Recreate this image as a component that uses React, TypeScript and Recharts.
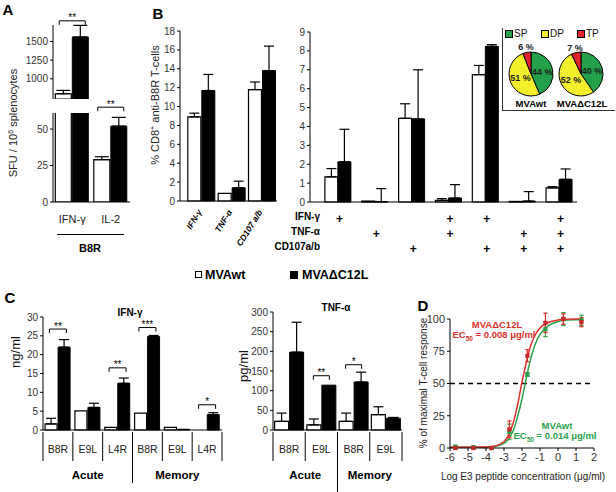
import React from "react";
import {
  Bar,
  BarChart,
  Cell,
  ComposedChart,
  ErrorBar,
  Line,
  Pie,
  PieChart,
  ReferenceDot,
  ReferenceLine,
  Scatter,
  XAxis,
  YAxis,
  ZAxis,
} from "recharts";

// Four-panel figure (A–D) comparing MVAwt with MVAΔC12L. Every panel is its own
// small Recharts chart, pinned absolutely so the plot areas line up with the
// original layout; free text (panel letters, axis titles) sits in plain divs.

const FONT = '"Liberation Sans", Arial, Helvetica, sans-serif';
const WT_NAME = "MVAwt";
const KO_NAME = "MVA\u0394C12L";
const TICK = { fontSize: 10, fill: "#333", fontFamily: FONT };

// ---- A: ELISpot, B8R peptide (broken y axis) ----
const A_CATS = ["IFN-\u03b3", "IL-2"];
const A_WT = [800, 29];
const A_WT_ERR = [45, 2];
const A_KO = [1560, 52];
const A_KO_ERR = [155, 6];
const A_BREAK = 61; // top of the lower segment
const A_UPPER_MIN = 730; // bottom of the upper segment
const A_SIG_LEVEL = [1776, 65];
const A_SIG_STARS = ["**", "**"];

// ---- B: intracellular staining, single markers ----
const B_CATS = ["IFN-\u03b3", "TNF-\u03b1", "CD107 a/b"];
const B_WT = [8.9, 0.8, 11.8];
const B_WT_ERR = [0.4, 0, 0.8];
const B_KO = [11.7, 1.4, 13.8];
const B_KO_ERR = [1.7, 0.7, 2.6];

// ---- B: marker combinations ----
const BC_MARKERS = ["IFN-\u03b3", "TNF-\u03b1", "CD107a/b"];
const BC_COMBOS = [[0], [1], [2], [0, 1], [0, 2], [1, 2], [0, 1, 2]];
const BC_WT = [1.33, 0.05, 4.43, 0.09, 6.74, 0.03, 0.75];
const BC_WT_ERR = [0.44, 0, 0.77, 0.09, 0.49, 0, 0.06];
const BC_KO = [2.13, 0.02, 4.4, 0.21, 8.24, 0.05, 1.2];
const BC_KO_ERR = [1.72, 0.69, 2.6, 0.71, 0.09, 0.5, 0.55];

// ---- B inset pies ----
const PIE_SUBSETS = ["SP", "DP", "TP"];
const PIE_COLORS = ["#23a04a", "#f3ef2c", "#e3222b"];
const PIE_WT = [44, 51, 6];
const PIE_KO = [40, 52, 7];

// ---- C: cytokine secretion ----
const C_IFN_PHASES = ["Acute", "Acute", "Acute", "Memory", "Memory", "Memory"];
const C_IFN_PEPTIDES = ["B8R", "E9L", "L4R", "B8R", "E9L", "L4R"];
const C_IFN_WT = [1.6, 5.1, 0.7, 4.5, 0.7, 0];
const C_IFN_WT_ERR = [1.5, 0, 0, 0, 0, 0];
const C_IFN_KO = [22, 6.0, 12.4, 24.8, 0.2, 4.1];
const C_IFN_KO_ERR = [2.0, 1.1, 1.4, 0.3, 0, 0.5];
const C_IFN_SIG_LEVEL = [26.8, null, 16.5, 27.2, null, 6.7];
const C_IFN_SIG_STARS = ["**", "", "**", "***", "", "*"];

const C_TNF_PHASES = ["Acute", "Acute", "Memory", "Memory"];
const C_TNF_PEPTIDES = ["B8R", "E9L", "B8R", "E9L"];
const C_TNF_WT = [22, 13, 22, 39];
const C_TNF_WT_ERR = [21, 15, 21, 20];
const C_TNF_KO = [198, 114, 122, 30];
const C_TNF_KO_ERR = [76, 0, 25, 2];
const C_TNF_SIG_LEVEL = [null, 138, 166, null];
const C_TNF_SIG_STARS = ["", "**", "*", ""];

// ---- D: peptide titration ----
const D_DOSES = [-5.7, -4.7, -3.7, -2.7, -1.7, -0.7, 0.3, 1.3];
const D_KO = [0, 0, 0, 14.5, 71.5, 97, 100, 97.5];
const D_KO_ERR = [1, 1, 1, 6.5, 4.7, 7.5, 4, 3.5];
const D_WT = [1, 0.5, 0, 12.5, 57, 92, 100, 99];
const D_WT_ERR = [1, 1, 1, 6, 1.5, 5.7, 5, 4];
const D_FIT_X = [-6, -4, -3.5, -3, -2.75, -2.5, -2.25, -2, -1.75, -1.5, -1.25, -1, -0.5, 0, 0.5, 1, 1.4];
const D_KO_FIT = [0.5, 0.7, 1.5, 5, 10, 19, 33, 51, 67, 80, 88, 93, 97.5, 99.2, 99.8, 100, 100];
const D_WT_FIT = [0.5, 0.6, 1.2, 3.5, 7, 13, 24, 38, 55, 70, 81, 88, 95, 98, 99.2, 99.5, 99.5];

const RED = "#e0302c";
const GREEN = "#2ba24c";

function rows(cats: string[], wt: number[], wtErr: number[], ko: number[], koErr: number[]) {
  return cats.map((cat, i) => ({
    cat,
    wt: wt[i],
    wtErr: wtErr[i] ? [0, wtErr[i]] : null,
    ko: ko[i],
    koErr: koErr[i] ? [0, koErr[i]] : null,
  }));
}

const aRows = rows(A_CATS, A_WT, A_WT_ERR, A_KO, A_KO_ERR);
const aUpper = aRows.map((r) => ({
  cat: r.cat,
  wt: r.wt > A_UPPER_MIN ? r.wt : null,
  wtErr: r.wt > A_UPPER_MIN ? r.wtErr : null,
  ko: r.ko > A_UPPER_MIN ? r.ko : null,
  koErr: r.ko > A_UPPER_MIN ? r.koErr : null,
}));
const aLower = aRows.map((r) => ({
  ...r,
  wtErr: r.wt > A_BREAK ? null : r.wtErr,
  koErr: r.ko > A_BREAK ? null : r.koErr,
}));
const bRows = rows(B_CATS, B_WT, B_WT_ERR, B_KO, B_KO_ERR);
const bcCats = BC_COMBOS.map((c) => c.map((m) => BC_MARKERS[m]).join("+"));
const bcRows = rows(bcCats, BC_WT, BC_WT_ERR, BC_KO, BC_KO_ERR);
const cIfnCats = C_IFN_PEPTIDES.map((p, i) => `${C_IFN_PHASES[i]} ${p}`);
const cIfnRows = rows(cIfnCats, C_IFN_WT, C_IFN_WT_ERR, C_IFN_KO, C_IFN_KO_ERR);
const cTnfCats = C_TNF_PEPTIDES.map((p, i) => `${C_TNF_PHASES[i]} ${p}`);
const cTnfRows = rows(cTnfCats, C_TNF_WT, C_TNF_WT_ERR, C_TNF_KO, C_TNF_KO_ERR);
const dKoPts = D_DOSES.map((x, i) => ({ x, y: D_KO[i], e: D_KO_ERR[i] }));
const dWtPts = D_DOSES.map((x, i) => ({ x, y: D_WT[i], e: D_WT_ERR[i] }));
const dKoFit = D_FIT_X.map((x, i) => ({ x, y: D_KO_FIT[i] }));
const dWtFit = D_FIT_X.map((x, i) => ({ x, y: D_WT_FIT[i] }));

function T({ x, y, children, size = 10, bold = false, color = "#000", rotate = 0, align = "center" }: any) {
  const tx = align === "center" ? "-50%" : align === "right" ? "-100%" : "0";
  return (
    <div
      style={{
        position: "absolute",
        left: x,
        top: y,
        transform: `translate(${tx}, -50%) rotate(${rotate}deg)`,
        fontSize: size,
        fontWeight: bold ? 700 : 400,
        color,
        whiteSpace: "nowrap",
        lineHeight: 1,
      }}
    >
      {children}
    </div>
  );
}

function Box({ x, y, children }: any) {
  return <div style={{ position: "absolute", left: x, top: y }}>{children}</div>;
}

function bracketShape(half: number, stars: string) {
  return (p: any) => (
    <g>
      <path
        d={`M${p.cx - half},${p.cy + 4}V${p.cy}H${p.cx + half}V${p.cy + 4}`}
        fill="none"
        stroke="#000"
        strokeWidth={1}
      />
      <text x={p.cx} y={p.cy + 0.5} textAnchor="middle" fontSize={10} fill="#000" stroke="none" fontFamily={FONT}>
        {stars}
      </text>
    </g>
  );
}

function pairBars(errWidth: number) {
  return [
    <Bar key="wt" dataKey="wt" fill="#fff" stroke="#000" strokeWidth={1.2} isAnimationActive={false}>
      <ErrorBar dataKey="wtErr" width={errWidth} stroke="#000" strokeWidth={1.2} />
    </Bar>,
    <Bar key="ko" dataKey="ko" fill="#000" stroke="#000" strokeWidth={1} isAnimationActive={false}>
      <ErrorBar dataKey="koErr" width={errWidth} stroke="#000" strokeWidth={1.2} />
    </Bar>,
  ];
}

function SlantTick({ x, y, payload }: any) {
  const ax = x + 1;
  const ay = y + 9;
  return (
    <text
      x={ax}
      y={ay}
      transform={`rotate(-58 ${ax} ${ay})`}
      textAnchor="end"
      fontSize={8.5}
      fontStyle="italic"
      fontWeight="bold"
      fontFamily={FONT}
    >
      {payload.value}
    </text>
  );
}

function ComboTick({ x, y, index }: any) {
  const combo = BC_COMBOS[index];
  return (
    <g>
      {BC_MARKERS.map((m, r) =>
        combo.includes(r) ? (
          <text
            key={m}
            x={x + 2}
            y={y + 15 + r * 15}
            textAnchor="middle"
            dominantBaseline="central"
            fontSize={12}
            fontWeight="bold"
            fontFamily={FONT}
          >
            +
          </text>
        ) : null
      )}
    </g>
  );
}

function makePhaseTick(peptides: string[], phases: string[], band: number, groupDrop: number) {
  return function PhaseTick({ x, y, index }: any) {
    const left = x - band / 2;
    const right = x + band / 2;
    const newGroup = index === 0 || phases[index] !== phases[index - 1];
    const last = index === peptides.length - 1;
    let n = 1;
    while (index + n < phases.length && phases[index + n] === phases[index]) n++;
    return (
      <g fontFamily={FONT}>
        <line
          x1={left}
          x2={left}
          y1={y}
          y2={y + (newGroup && index > 0 ? groupDrop : 29)}
          stroke="#000"
          strokeWidth={1}
        />
        {last && <line x1={right} x2={right} y1={y} y2={y + 29} stroke="#000" strokeWidth={1} />}
        <text x={x} y={y + 17} textAnchor="middle" dominantBaseline="central" fontSize={10.5} fill="#222">
          {peptides[index]}
        </text>
        {newGroup && (
          <text
            x={left + (n * band) / 2}
            y={y + 43}
            textAnchor="middle"
            dominantBaseline="central"
            fontSize={11.5}
            fontWeight="bold"
          >
            {phases[index]}
          </text>
        )}
      </g>
    );
  };
}

function pieLabel(p: any) {
  const small = p.percent < 0.1;
  const r = small ? p.outerRadius + 5 : p.outerRadius * 0.52;
  const rad = (Math.PI / 180) * p.midAngle;
  const x = p.cx + r * Math.cos(rad);
  const y = p.cy - r * Math.sin(rad);
  return (
    <text
      x={x}
      y={y}
      textAnchor="middle"
      dominantBaseline="central"
      fontSize={9}
      fontWeight="bold"
      fill="#1d1d1d"
      fontFamily={FONT}
    >
      {p.value} %
    </text>
  );
}

function SubsetPie({ values }: { values: number[] }) {
  const data = PIE_SUBSETS.map((name, i) => ({ name, value: values[i] }));
  return (
    <PieChart width={64} height={66} margin={{ top: 0, right: 0, bottom: 0, left: 0 }}>
      <Pie
        data={data}
        dataKey="value"
        cx={32}
        cy={33}
        outerRadius={22}
        startAngle={90}
        endAngle={-270}
        stroke="#000"
        strokeWidth={1}
        label={pieLabel}
        labelLine={false}
        isAnimationActive={false}
      >
        {data.map((d, i) => (
          <Cell key={d.name} fill={PIE_COLORS[i]} />
        ))}
      </Pie>
    </PieChart>
  );
}

const axisLine = { stroke: "#000", strokeWidth: 1 };

export default function App() {
  const ifnTick = makePhaseTick(C_IFN_PEPTIDES, C_IFN_PHASES, 179 / 6, 51);
  const tnfTick = makePhaseTick(C_TNF_PEPTIDES, C_TNF_PHASES, 129 / 4, 60);

  return (
    <div
      style={{
        position: "absolute",
        left: 0,
        top: 0,
        width: 616,
        height: 492,
        background: "#fff",
        fontFamily: FONT,
        overflow: "hidden",
      }}
    >
      {/* ---------- A ---------- */}
      <T x={8} y={9} size={15} bold>A</T>
      <Box x={20} y={5}>
        <BarChart
          width={110}
          height={94}
          data={aUpper}
          margin={{ top: 20, right: 0, bottom: 0, left: 0 }}
          barCategoryGap="6%"
          barGap={1}
        >
          <XAxis dataKey="cat" hide />
          <YAxis
            width={33}
            domain={[A_UPPER_MIN, 1720]}
            ticks={[750, 1000, 1250, 1500]}
            allowDataOverflow
            tick={TICK}
            tickSize={3}
            axisLine={axisLine}
            tickLine={axisLine}
          />
          {pairBars(7)}
          {A_CATS.map((c, i) =>
            A_SIG_LEVEL[i] > A_UPPER_MIN ? (
              <ReferenceDot key={c} x={c} y={A_SIG_LEVEL[i]} ifOverflow="visible" shape={bracketShape(13, A_SIG_STARS[i])} />
            ) : null
          )}
        </BarChart>
      </Box>
      <Box x={20} y={93}>
        <BarChart
          width={110}
          height={139}
          data={aLower}
          margin={{ top: 20, right: 0, bottom: 0, left: 0 }}
          barCategoryGap="6%"
          barGap={1}
        >
          <XAxis
            dataKey="cat"
            height={30}
            tickLine={false}
            tickSize={0}
            tickMargin={13}
            axisLine={axisLine}
            tick={{ ...TICK, fontSize: 11, fill: "#222" }}
            interval={0}
          />
          <YAxis
            width={33}
            domain={[0, A_BREAK]}
            ticks={[0, 25, 50]}
            allowDataOverflow
            tick={TICK}
            tickSize={3}
            axisLine={axisLine}
            tickLine={axisLine}
          />
          {pairBars(7)}
          {A_CATS.map((c, i) =>
            A_SIG_LEVEL[i] < A_UPPER_MIN ? (
              <ReferenceDot key={c} x={c} y={A_SIG_LEVEL[i]} ifOverflow="visible" shape={bracketShape(13, A_SIG_STARS[i])} />
            ) : null
          )}
        </BarChart>
      </Box>
      <T x={13} y={123} size={11} rotate={-90} color="#222">
        SFU / 10<sup style={{ fontSize: 7 }}>6</sup> splenocytes
      </T>
      <div style={{ position: "absolute", left: 57, top: 234, width: 67, height: 1.3, background: "#000" }} />
      <T x={90} y={248} size={11} bold>B8R</T>

      {/* ---------- B ---------- */}
      <T x={158} y={13} size={15} bold>B</T>
      <Box x={140} y={21}>
        <BarChart
          width={140}
          height={230}
          data={bRows}
          margin={{ top: 10, right: 3, bottom: 0, left: 0 }}
          barCategoryGap="6%"
          barGap={1}
        >
          <XAxis
            dataKey="cat"
            height={50}
            padding={{ left: 6, right: 0 }}
            tickLine={false}
            tickSize={0}
            tick={<SlantTick />}
            axisLine={axisLine}
            interval={0}
          />
          <YAxis
            width={40}
            domain={[0, 18]}
            ticks={[0, 2, 4, 6, 8, 10, 12, 14, 16, 18]}
            tick={TICK}
            tickSize={3}
            axisLine={axisLine}
            tickLine={axisLine}
          />
          {pairBars(5)}
        </BarChart>
      </Box>
      <T x={155} y={105} size={11} rotate={-90} color="#222">
        % CD8<sup style={{ fontSize: 7 }}>+</sup> anti-B8R T-cells
      </T>

      <Box x={285} y={22}>
        <BarChart
          width={296}
          height={235}
          data={bcRows}
          margin={{ top: 10, right: 4, bottom: 0, left: 0 }}
          barCategoryGap="16%"
          barGap={0}
        >
          <XAxis
            dataKey="cat"
            height={55}
            padding={{ left: 9, right: 0 }}
            tickLine={false}
            tickSize={0}
            tick={<ComboTick />}
            axisLine={axisLine}
            interval={0}
          />
          <YAxis
            width={25}
            domain={[0, 9]}
            ticks={[0, 1, 2, 3, 4, 5, 6, 7, 8, 9]}
            tick={TICK}
            tickSize={3}
            axisLine={axisLine}
            tickLine={axisLine}
          />
          {pairBars(5)}
        </BarChart>
      </Box>
      {BC_MARKERS.map((m, r) => (
        <T key={m} x={320} y={217 + r * 15} size={10} bold align="right">
          {m}
        </T>
      ))}

      {/* inset: polyfunctionality pies */}
      <div
        style={{
          position: "absolute",
          left: 502,
          top: 28,
          width: 112,
          height: 82,
          borderLeft: "1.5px solid #333",
          borderBottom: "1.5px solid #333",
          background: "#fff",
        }}
      />
      {PIE_SUBSETS.map((s, i) => (
        <React.Fragment key={s}>
          <div
            style={{
              position: "absolute",
              left: 505 + i * 36,
              top: 30,
              width: 6,
              height: 6,
              background: PIE_COLORS[i],
              border: "1px solid #000",
            }}
          />
          <T x={514 + i * 36} y={34} size={10} align="left" color="#111">
            {s}
          </T>
        </React.Fragment>
      ))}
      <Box x={499} y={41}>
        <SubsetPie values={PIE_WT} />
      </Box>
      <Box x={549} y={41}>
        <SubsetPie values={PIE_KO} />
      </Box>
      <T x={531} y={104} size={9.5} bold>{WT_NAME}</T>
      <T x={582} y={104} size={9.5} bold>{KO_NAME}</T>

      {/* ---------- shared legend ---------- */}
      <div style={{ position: "absolute", left: 195, top: 271, width: 5, height: 5, border: "1.5px solid #000", background: "#fff" }} />
      <T x={205} y={275} size={12.5} bold align="left">{WT_NAME}</T>
      <div style={{ position: "absolute", left: 290, top: 271, width: 8, height: 8, background: "#000" }} />
      <T x={302} y={275} size={12.5} bold align="left">{KO_NAME}</T>

      {/* ---------- C ---------- */}
      <T x={10} y={297} size={15} bold>C</T>
      <T x={130} y={313} size={10} bold>{"IFN-\u03b3"}</T>
      <Box x={0} y={307}>
        <BarChart
          width={227}
          height={185}
          data={cIfnRows}
          margin={{ top: 10, right: 5, bottom: 0, left: 0 }}
          barCategoryGap="7%"
          barGap={1}
        >
          <XAxis
            dataKey="cat"
            height={62}
            tickLine={false}
            tickSize={0}
            tick={ifnTick}
            axisLine={axisLine}
            interval={0}
          />
          <YAxis
            width={43}
            domain={[0, 30]}
            ticks={[0, 5, 10, 15, 20, 25, 30]}
            tick={TICK}
            tickSize={3}
            axisLine={axisLine}
            tickLine={axisLine}
          />
          {pairBars(5)}
          {cIfnCats.map((c, i) =>
            C_IFN_SIG_LEVEL[i] != null ? (
              <ReferenceDot key={c} x={c} y={C_IFN_SIG_LEVEL[i] as number} ifOverflow="visible" shape={bracketShape(8.5, C_IFN_SIG_STARS[i])} />
            ) : null
          )}
        </BarChart>
      </Box>
      <T x={15} y={352} size={13} rotate={-90} color="#111">ng/ml</T>

      <T x={336} y={308} size={10} bold>{"TNF-\u03b1"}</T>
      <Box x={230} y={302}>
        <BarChart
          width={177}
          height={190}
          data={cTnfRows}
          margin={{ top: 10, right: 5, bottom: 0, left: 0 }}
          barCategoryGap="5%"
          barGap={1}
        >
          <XAxis
            dataKey="cat"
            height={62}
            tickLine={false}
            tickSize={0}
            tick={tnfTick}
            axisLine={axisLine}
            interval={0}
          />
          <YAxis
            width={43}
            domain={[0, 300]}
            ticks={[0, 50, 100, 150, 200, 250, 300]}
            tick={TICK}
            tickSize={3}
            axisLine={axisLine}
            tickLine={axisLine}
          />
          {pairBars(5)}
          {cTnfCats.map((c, i) =>
            C_TNF_SIG_LEVEL[i] != null ? (
              <ReferenceDot key={c} x={c} y={C_TNF_SIG_LEVEL[i] as number} ifOverflow="visible" shape={bracketShape(8, C_TNF_SIG_STARS[i])} />
            ) : null
          )}
        </BarChart>
      </Box>
      <T x={243} y={366} size={13} rotate={-90} color="#111">pg/ml</T>

      {/* ---------- D ---------- */}
      <T x={423} y={305} size={15} bold>D</T>
      <Box x={405} y={309}>
        <ComposedChart width={194} height={164} margin={{ top: 10, right: 5, bottom: 0, left: 0 }}>
          <XAxis
            type="number"
            dataKey="x"
            domain={[-6, 2]}
            ticks={[-6, -5, -4, -3, -2, -1, 0, 1, 2]}
            height={25}
            tick={{ ...TICK, fontSize: 11 }}
            tickSize={3}
            axisLine={axisLine}
            tickLine={axisLine}
          />
          <YAxis
            type="number"
            width={45}
            domain={[0, 100]}
            ticks={[0, 25, 50, 75, 100]}
            tick={{ ...TICK, fontSize: 11 }}
            tickSize={3}
            axisLine={axisLine}
            tickLine={axisLine}
          />
          <ZAxis range={[18, 18]} />
          <ReferenceLine y={50} stroke="#000" strokeWidth={1.5} strokeDasharray="5 4" />
          <Line data={dWtFit} dataKey="y" type="monotone" stroke={GREEN} strokeWidth={1.5} dot={false} isAnimationActive={false} />
          <Line data={dKoFit} dataKey="y" type="monotone" stroke={RED} strokeWidth={1.5} dot={false} isAnimationActive={false} />
          {[
            { pts: dWtPts, color: GREEN },
            { pts: dKoPts, color: RED },
          ].map(({ pts, color }) =>
            pts.map((p, i) => (
              <React.Fragment key={`${color}-${i}`}>
                <ReferenceLine
                  segment={[{ x: p.x, y: p.y - p.e }, { x: p.x, y: p.y + p.e }]}
                  stroke={color}
                  strokeWidth={1.2}
                  ifOverflow="visible"
                />
                <ReferenceLine
                  segment={[{ x: p.x - 0.12, y: p.y + p.e }, { x: p.x + 0.12, y: p.y + p.e }]}
                  stroke={color}
                  strokeWidth={1.2}
                  ifOverflow="visible"
                />
                <ReferenceLine
                  segment={[{ x: p.x - 0.12, y: p.y - p.e }, { x: p.x + 0.12, y: p.y - p.e }]}
                  stroke={color}
                  strokeWidth={1.2}
                  ifOverflow="visible"
                />
              </React.Fragment>
            ))
          )}
          <Scatter data={dWtPts} dataKey="y" shape="square" fill="#279b45" legendType="none" isAnimationActive={false} />
          <Scatter data={dKoPts} dataKey="y" shape="square" fill="#c8282a" legendType="none" isAnimationActive={false} />
        </ComposedChart>
      </Box>
      <T x={424} y={383} size={10} rotate={-90} color="#222">% of maximal T-cell response</T>
      <T x={523} y={477} size={10} color="#222">{"Log E3 peptide concentration (\u03bcg/ml)"}</T>
      <T x={497} y={325} size={9.5} bold color={RED}>{KO_NAME}</T>
      <T x={494} y={336} size={9.5} bold color={RED}>
        EC<sub style={{ fontSize: 6.5 }}>50</sub> = 0.008 {"\u03bcg/ml"}
      </T>
      <T x={557} y={426} size={9.5} bold color={GREEN}>{WT_NAME}</T>
      <T x={555} y={437} size={9.5} bold color={GREEN}>
        EC<sub style={{ fontSize: 6.5 }}>50</sub> = 0.014 {"\u03bcg/ml"}
      </T>
    </div>
  );
}
